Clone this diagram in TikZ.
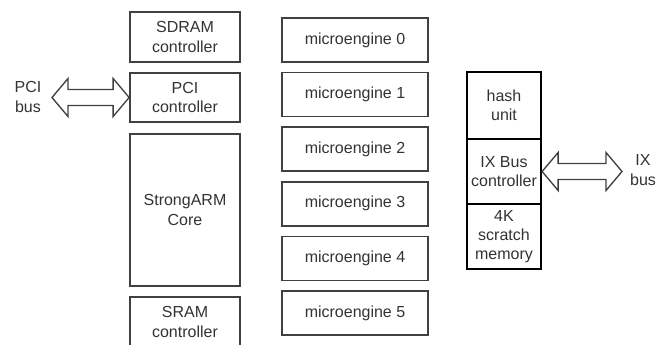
\documentclass[tikz,border=0pt]{standalone}
\usepackage{fontspec}
\setmainfont{Liberation Sans}
\usetikzlibrary{calc}

% hollow double arrow between two points on the same height
\newcommand{\busarrow}[2]{%
  \draw[busline] (#1) -- ($(#1)+(16,-19)$) -- ($(#1)+(16,-8)$) -- ($(#2)+(-16,-8)$)
    -- ($(#2)+(-16,-19)$) -- (#2) -- ($(#2)+(-16,19)$) -- ($(#2)+(-16,8)$)
    -- ($(#1)+(16,8)$) -- ($(#1)+(16,19)$) -- cycle;}

\begin{document}
\begin{tikzpicture}[x=0.75pt, y=-0.75pt,
  font=\fontsize{12}{14.4}\selectfont,
  unit/.style={draw=black!75, line width=1.3pt, align=center, text=black!80, inner sep=0pt},
  block/.style={draw=black, line width=1.7pt, align=center, text=black!80, inner sep=0pt,
    minimum width=55.5pt},
  busline/.style={draw=black!75, line width=1pt, line join=miter}]
  \clip (0,0) rectangle (667,345);

  \node[unit, minimum width=82.5pt, minimum height=37.5pt] (SDRAMController) at (185,37) {SDRAM\\controller};
  \node[unit, minimum width=82.5pt, minimum height=36.75pt] (PCIController) at (185,97.5) {PCI\\controller};
  \node[unit, minimum width=82.5pt, minimum height=114pt] (StrongARM) at (185,210) {StrongARM\\Core};
  \node[unit, minimum width=82.5pt, minimum height=37.5pt] (SRAMController) at (185,322) {SRAM\\controller};

  \foreach \i in {0,...,5}
    \node[unit, minimum width=109.5pt, minimum height=33pt] (Microengine\i) at (355,{40+54.6*\i}) {microengine \i};

  \node[block, minimum height=50.25pt] (HashUnit) at (504,105.5) {hash\\unit};
  \node[block, minimum height=48.75pt] (IXBusController) at (504,171.5) {IX Bus\\controller};
  \node[block, minimum height=48.75pt] (ScratchMemory) at (504,236.5) {4K\\scratch\\memory};

  \node[align=center, text=black!80, inner sep=0pt] (PCIBus) at (28,97) {PCI\\bus};
  \node[align=center, text=black!80, inner sep=0pt] (IXBus) at (643,170) {IX\\bus};

  \coordinate (PCITip) at (52,97.5);
  \coordinate (IXTip) at (622,171.5);
  \busarrow{PCITip}{PCIController.west}
  \busarrow{IXBusController.east}{IXTip}
\end{tikzpicture}
\end{document}
